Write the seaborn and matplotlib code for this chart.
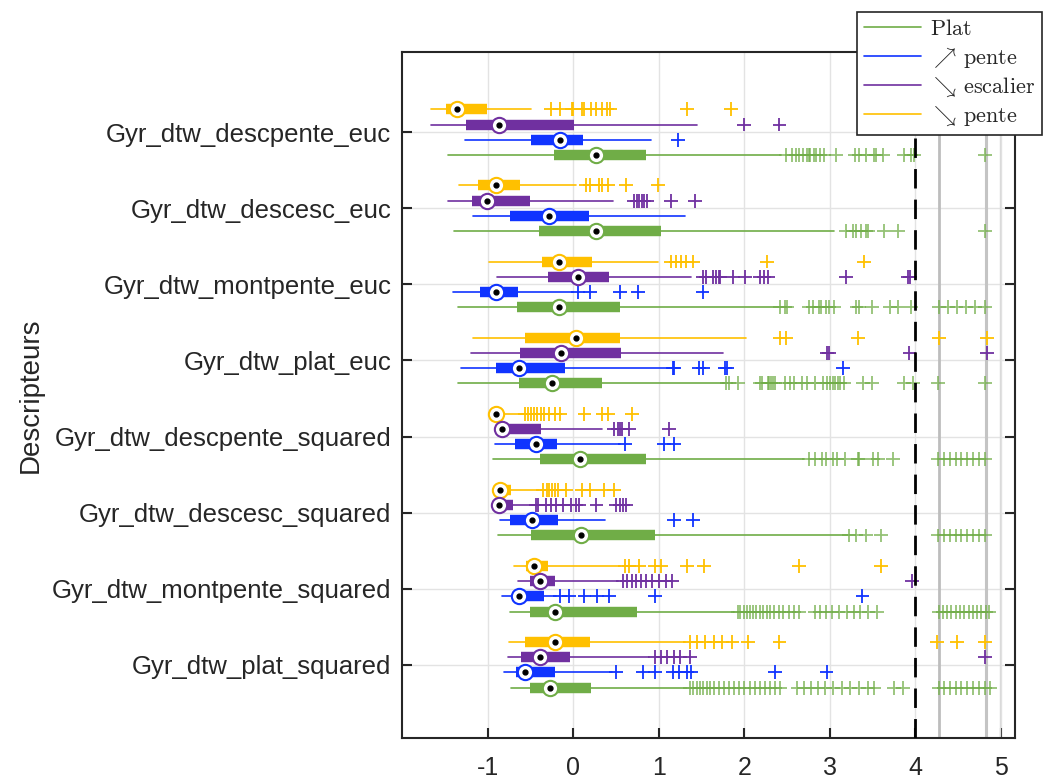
import numpy as np
import pandas as pd
import seaborn as sns
import matplotlib.pyplot as plt
from matplotlib.lines import Line2D
from matplotlib.colors import to_rgba

# descriptors, top to bottom
descriptors = ["Gyr_dtw_descpente_euc", "Gyr_dtw_descesc_euc", "Gyr_dtw_montpente_euc",
               "Gyr_dtw_plat_euc", "Gyr_dtw_descpente_squared", "Gyr_dtw_descesc_squared",
               "Gyr_dtw_montpente_squared", "Gyr_dtw_plat_squared"]

group_keys = ["plat", "mpente", "descesc", "dpente"]
legend_labels = [r"$\mathrm{Plat}$", r"$\nearrow\,\mathrm{pente}$",
                 r"$\searrow\,\mathrm{escalier}$", r"$\searrow\,\mathrm{pente}$"]
colors = {"plat": "#70AD47", "mpente": "#1034FF", "descesc": "#7030A0", "dpente": "#FFC000"}

# whisker low, q1, median, q3, whisker high (one row per descriptor)
plat_stats = [
    [-1.47, -0.23, 0.27, 0.85, 2.43],
    [-1.40, -0.40, 0.27, 1.03, 3.05],
    [-1.35, -0.66, -0.17, 0.55, 2.39],
    [-1.35, -0.64, -0.25, 0.34, 1.76],
    [-0.94, -0.39, 0.08, 0.85, 2.70],
    [-0.88, -0.49, 0.09, 0.95, 3.21],
    [-0.74, -0.51, -0.21, 0.74, 1.88],
    [-0.73, -0.51, -0.27, 0.21, 1.32],
]
mpente_stats = [
    [-1.27, -0.49, -0.16, 0.11, 0.91],
    [-1.17, -0.74, -0.28, 0.18, 1.30],
    [-1.41, -1.09, -0.91, -0.65, 0.00],
    [-1.31, -0.90, -0.64, -0.10, 1.12],
    [-0.92, -0.68, -0.44, -0.19, 0.55],
    [-0.86, -0.74, -0.48, -0.18, 0.37],
    [-0.83, -0.66, -0.64, -0.34, -0.20],
    [-0.81, -0.67, -0.57, -0.22, 0.45],
]
descesc_stats = [
    [-1.66, -1.25, -0.87, 0.01, 1.45],
    [-1.47, -1.18, -1.01, -0.51, 0.46],
    [-0.89, -0.30, 0.05, 0.42, 1.38],
    [-1.20, -0.62, -0.14, 0.56, 1.75],
    [-0.86, -0.86, -0.84, -0.38, 0.34],
    [-0.88, -0.88, -0.87, -0.71, -0.48],
    [-0.65, -0.51, -0.39, -0.21, 0.52],
    [-0.77, -0.61, -0.39, -0.04, 0.89],
]
dpente_stats = [
    [-1.66, -1.49, -1.36, -1.01, -0.49],
    [-1.34, -1.11, -0.90, -0.62, 0.03],
    [-0.99, -0.37, -0.17, 0.22, 0.99],
    [-1.17, -0.56, 0.03, 0.55, 2.02],
    [-0.93, -0.92, -0.91, -0.82, -0.60],
    [-0.87, -0.87, -0.86, -0.73, -0.40],
    [-0.69, -0.55, -0.46, -0.30, 0.55],
    [-0.75, -0.57, -0.21, 0.19, 1.30],
]

# outliers (one list per descriptor)
plat_out = [
    [2.49, 2.56, 2.60, 2.64, 2.68, 2.73, 2.75, 2.77, 2.81, 2.84, 2.88, 2.93, 3.07,
     3.29, 3.34, 3.42, 3.51, 3.54, 3.62, 3.87, 3.95, 3.98, 4.81],
    [3.19, 3.27, 3.30, 3.36, 3.42, 3.45, 3.63, 3.80, 4.81],
    [2.42, 2.47, 2.50, 2.75, 2.80, 2.87, 2.90, 2.95, 2.99, 3.05, 3.31, 3.34, 3.49,
     3.70, 3.79, 3.95, 4.27, 4.38, 4.48, 4.59, 4.70, 4.81],
    [1.79, 1.82, 1.92, 2.18, 2.21, 2.27, 2.29, 2.31, 2.33, 2.36, 2.48, 2.53, 2.58,
     2.67, 2.73, 2.82, 2.92, 2.97, 3.00, 3.03, 3.06, 3.09, 3.12, 3.17, 3.39, 3.49,
     3.87, 3.97, 4.26, 4.81],
    [2.75, 2.82, 2.91, 2.95, 3.04, 3.08, 3.18, 3.33, 3.34, 3.50, 3.56, 3.74,
     4.26, 4.33, 4.40, 4.47, 4.53, 4.60, 4.67, 4.74, 4.81],
    [3.22, 3.30, 3.42, 3.60, 4.26, 4.33, 4.40, 4.47, 4.53, 4.60, 4.67, 4.74, 4.81],
    [1.92, 1.95, 1.99, 2.03, 2.06, 2.10, 2.14, 2.18, 2.22, 2.26, 2.30, 2.35, 2.40,
     2.45, 2.52, 2.58, 2.64, 2.82, 2.88, 2.95, 3.02, 3.10, 3.20, 3.28, 3.35, 3.45,
     3.55, 4.27, 4.32, 4.37, 4.42, 4.47, 4.52, 4.57, 4.62, 4.67, 4.72, 4.77, 4.82, 4.86],
    [1.36, 1.40, 1.44, 1.48, 1.52, 1.56, 1.60, 1.64, 1.70, 1.76, 1.82, 1.88, 1.94,
     2.00, 2.06, 2.12, 2.18, 2.24, 2.30, 2.36, 2.42, 2.62, 2.70, 2.78, 2.86, 2.94,
     3.04, 3.14, 3.24, 3.34, 3.44, 3.52, 3.75, 3.85, 4.27, 4.33, 4.40, 4.47, 4.53,
     4.60, 4.67, 4.74, 4.81, 4.87],
]
mpente_out = [
    [1.22],
    [],
    [0.05, 0.19, 0.54, 0.76, 1.51],
    [1.17, 1.18, 1.47, 1.52, 1.77, 1.80, 3.15],
    [0.60, 1.06, 1.18],
    [1.18, 1.40],
    [-0.16, -0.05, 0.13, 0.28, 0.42, 0.95, 3.38],
    [0.50, 0.81, 0.95, 1.16, 1.24, 1.33, 1.38, 2.36, 2.96],
]
descesc_out = [
    [2.00, 2.41],
    [0.71, 0.74, 0.77, 0.80, 0.83, 0.86, 1.14, 1.42],
    [1.51, 1.55, 1.63, 1.67, 1.70, 1.71, 1.87, 2.01, 2.18, 2.23, 2.28, 3.19, 3.91, 3.94],
    [2.97, 2.99, 3.93, 4.84],
    [0.48, 0.52, 0.54, 0.57, 0.65, 1.12],
    [-0.44, -0.41, -0.32, -0.26, -0.20, -0.12, -0.03, 0.03, 0.07, 0.27, 0.50, 0.55,
     0.58, 0.62],
    [0.58, 0.63, 0.68, 0.73, 0.79, 0.85, 0.92, 1.00, 1.08, 1.15, 3.96],
    [0.95, 1.02, 1.10, 1.18, 1.25, 1.36, 4.81],
]
dpente_out = [
    [-0.26, -0.16, -0.02, -0.01, 0.10, 0.13, 0.21, 0.27, 0.33, 0.39, 0.43, 1.33, 1.84],
    [0.15, 0.19, 0.30, 0.33, 0.40, 0.62, 0.99],
    [1.14, 1.20, 1.26, 1.32, 1.40, 2.26, 3.40],
    [2.42, 2.49, 3.33, 4.27, 4.84],
    [-0.57, -0.53, -0.50, -0.46, -0.42, -0.38, -0.34, -0.28, -0.22, -0.16, 0.13,
     0.34, 0.41, 0.69],
    [-0.35, -0.31, -0.28, -0.25, -0.22, -0.18, -0.09, 0.10, 0.19, 0.36, 0.48],
    [0.60, 0.65, 0.77, 0.95, 1.03, 1.33, 1.53, 2.64, 3.60],
    [1.36, 1.44, 1.54, 1.64, 1.74, 1.86, 2.04, 2.41, 4.25, 4.49, 4.81],
]

x_ticks = [-1, 0, 1, 2, 3, 4, 5]
ref_dashed = 4.0
ref_gray = [4.27, 4.82, 4.84, 4.99]

stats = {"plat": plat_stats, "mpente": mpente_stats, "descesc": descesc_stats, "dpente": dpente_stats}
outs = {"plat": plat_out, "mpente": mpente_out, "descesc": descesc_out, "dpente": dpente_out}

rows = []
for g in group_keys:
    for d, vals in zip(descriptors, outs[g]):
        for v in vals:
            rows.append((d, g, v))
df = pd.DataFrame(rows, columns=["descripteur", "groupe", "valeur"])

sns.set_theme(style="white")
plt.rcParams["font.family"] = ["Liberation Sans", "DejaVu Sans"]
plt.rcParams["mathtext.fontset"] = "cm"

fig = plt.figure(figsize=(10.45, 7.8), dpi=100)
ax = fig.add_axes([0.385, 0.054, 0.586, 0.879])

# top-to-bottom within a descriptor: descending pente, escalier, montee pente, plat
draw_order = ["dpente", "descesc", "mpente", "plat"]
offsets = dict(zip(draw_order, [-0.3, -0.1, 0.1, 0.3]))

sns.stripplot(data=df, x="valeur", y="descripteur", hue="groupe", order=descriptors,
              hue_order=draw_order, palette=colors, dodge=True, jitter=False,
              marker="+", size=10, linewidth=1.3, legend=False, ax=ax, zorder=3)

# the green outlier crosses look a bit lighter in the original
green = np.array(to_rgba(colors["plat"]))
for coll in ax.collections:
    ec = coll.get_edgecolor()
    if len(ec) and np.allclose(ec[0][:3], green[:3], atol=0.02):
        coll.set_alpha(0.75)

for g in draw_order:
    c = colors[g]
    for i, (lo, q1, med, q3, hi) in enumerate(stats[g]):
        y = i + offsets[g]
        ax.plot([lo, hi], [y, y], color=c, lw=1.2, zorder=2)
        ax.plot([q1, q3], [y, y], color=c, lw=7.5, solid_capstyle="butt", zorder=4)
        ax.plot(med, y, "o", ms=11, mfc="white", mec=c, mew=1.5, zorder=5)
        ax.plot(med, y, "o", ms=3.5, color="black", zorder=6)

ax.axvline(ref_dashed, color="black", lw=2, ls=(0, (7, 4)), zorder=7)
for xv, lw, c in zip(ref_gray, [2, 1.5, 1.5, 1], ["#BDBDBD", "#C4C4C4", "#C4C4C4", "#DADADA"]):
    ax.axvline(xv, color=c, lw=lw, zorder=1.5)

ax.set_xlim(-2.0, 5.16)
ax.set_ylim(7.96, -1.05)
ax.set_xticks(x_ticks)
ax.set_xticklabels([str(t) for t in x_ticks])
ax.grid(True, color="#E3E3E3", lw=1)
ax.set_axisbelow(True)

for s in ax.spines.values():
    s.set_color("#262626")
    s.set_linewidth(1.5)
ax.tick_params(axis="y", direction="in", length=7, width=1.5, left=True, right=True,
               labelsize=18.5, pad=8, colors="#262626", labelcolor="#262626")
ax.tick_params(axis="x", direction="in", length=7, width=1.5, bottom=True,
               labelsize=18, pad=13, colors="#262626", labelcolor="#262626")
ax.set_xlabel("")
ax.set_ylabel("Descripteurs", fontsize=20, color="#262626", labelpad=6)

handles = [Line2D([], [], color=colors[g], lw=1.2) for g in group_keys]
leg = fig.legend(handles, legend_labels, loc="upper left", bbox_to_anchor=(857 / 1045, 1 - 12 / 780),
                 borderaxespad=0, frameon=True, fancybox=False, framealpha=1, fontsize=16,
                 handlelength=2.6, labelspacing=0.25, borderpad=0.3, handletextpad=0.4)
leg.get_frame().set_edgecolor("#262626")
leg.get_frame().set_facecolor("white")
leg.get_frame().set_linewidth(1.2)
leg.set_zorder(10)

fig.savefig("out.png", dpi=100)
